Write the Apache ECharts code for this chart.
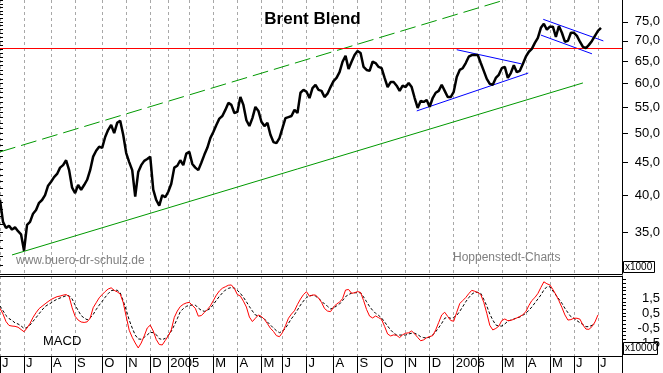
<!DOCTYPE html>
<html><head><meta charset="utf-8">
<script src="https://cdn.jsdelivr.net/npm/echarts@6/dist/echarts.min.js"></script>
<style>html,body{margin:0;padding:0;background:#fff}#c{width:663px;height:373px}</style>
</head><body><div id="c"></div>
<script>
// ---- data ----
const slotCount = 208; // trading-time slots across the x axis
const monthTickIdx = [0,8,17,25,34,42,50,56,63,71,79,87,94,102,111,119,127,135,143,151,159,167,175,183,191,199,207];
const monthLabels  = ['J','J','A','S','O','N','D','2005','','M','A','M','J','J','A','S','O','N','D','2006','','M','A','M','J','J',''];

const price = [
39.3,36.3,35.5,35.8,35.3,35.6,35.1,34.7,32.7,35.9,
36.3,37.4,37.9,38.9,39.3,40.0,41.4,42.0,42.7,43.2,
44.2,44.6,45.4,43.8,41.1,40.3,41.5,40.8,41.5,42.3,
43.8,46.0,47.0,47.7,47.5,49.4,50.7,51.6,50.1,52.0,
52.4,49.8,46.6,45.1,43.8,39.8,43.5,44.6,45.3,45.6,
46.0,40.8,39.3,38.5,40.0,39.7,40.5,41.7,44.2,44.5,
45.4,44.6,46.5,46.8,44.8,44.2,43.8,45.0,46.3,47.5,
49.2,50.3,51.6,52.8,53.3,54.5,55.9,55.5,53.9,54.1,
57.1,55.5,52.5,51.4,52.9,55.1,54.3,52.2,51.4,52.0,
49.8,48.5,48.3,49.2,51.0,52.9,53.1,53.3,54.5,53.9,
58.0,58.6,58.2,56.9,59.0,59.7,58.6,58.4,57.1,57.8,
59.2,60.5,61.2,62.5,64.9,66.3,63.2,64.9,66.5,67.5,
67.0,63.7,63.0,62.8,64.9,64.6,63.7,63.4,61.2,59.2,
60.3,60.3,59.5,58.4,59.5,59.2,60.1,59.2,56.9,54.9,
56.3,56.1,56.5,55.1,56.9,58.0,58.4,59.7,58.4,57.1,
57.1,58.2,61.4,63.0,63.4,64.6,66.1,66.5,66.5,66.5,
64.6,62.8,61.0,59.9,59.7,61.2,61.9,63.4,63.7,61.2,
62.3,64.1,62.5,62.8,64.4,66.1,67.3,68.0,69.5,70.8,
73.4,74.5,72.9,73.7,73.7,71.0,73.9,72.1,69.8,70.0,
72.1,72.1,71.3,69.8,68.5,68.2,69.0,70.0,71.3,72.6,
73.4];

const macd = [
0.81,0.43,-0.07,-0.33,-0.37,-0.39,-0.45,-0.6,-0.75,-0.5,
-0.19,0.21,0.52,0.79,0.95,1.11,1.26,1.4,1.5,1.59,
1.63,1.69,1.73,1.6,0.85,0.28,0.03,-0.1,-0.13,-0.09,
0.15,0.85,1.18,1.51,1.73,1.93,2.1,2.18,2.01,1.91,
1.77,1.2,0.27,-0.65,-1.12,-1.5,-1.83,-1.5,-1.03,-0.5,
-0.31,-0.7,-1.27,-1.6,-1.63,-1.33,-1.03,-0.63,0.2,0.63,
0.93,1.08,1.17,1.21,1.01,0.81,0.29,0.33,0.53,0.73,
0.97,1.33,1.69,1.97,2.15,2.25,2.35,2.37,2.13,1.73,
1.63,1.29,0.9,0.23,-0.07,0.15,0.37,0.27,0.07,-0.21,
-0.52,-0.73,-1.01,-1.08,-0.81,-0.35,0.15,0.43,0.65,1.07,
1.43,1.73,1.92,1.62,1.7,1.7,1.5,1.21,0.8,0.63,
0.59,0.89,1.1,1.22,1.46,2.03,2.07,1.81,1.85,1.93,
1.87,1.33,0.73,0.29,0.17,0.3,0.19,0.07,-0.4,-0.9,
-1.03,-0.96,-0.99,-1.14,-0.95,-0.85,-0.82,-0.7,-0.89,-1.13,
-1.35,-1.29,-1.15,-1.07,-1.01,-0.63,-0.13,0.37,0.55,0.27,
0,-0.05,0.55,1.13,1.33,1.53,1.79,2.01,1.95,1.86,
1.73,1.21,0.48,-0.32,-0.63,-0.53,-0.38,0,0.1,-0.01,
0.01,0.08,0.17,0.27,0.39,0.59,1.0,1.33,1.53,1.8,
2.2,2.58,2.45,2.37,2.07,1.72,1.32,0.87,0.37,0.03,
0.06,0.15,0.15,0.09,-0.3,-0.57,-0.59,-0.41,-0.1,0.37];

const signal = [
0.97,0.65,0.33,0.13,0.01,-0.16,-0.23,-0.36,-0.53,-0.47,
-0.3,-0.05,0.19,0.45,0.7,0.93,1.06,1.17,1.31,1.42,
1.5,1.58,1.65,1.65,1.44,1.03,0.67,0.33,0.17,0.05,
0.17,0.4,0.73,1.02,1.28,1.55,1.79,1.99,2.03,2.02,
1.85,1.32,0.7,0.03,-0.5,-0.97,-1.23,-1.25,-1.12,-0.96,
-0.79,-0.81,-0.94,-1.21,-1.27,-1.19,-0.99,-0.72,-0.32,0.12,
0.59,0.79,0.94,1.01,1.03,1.03,0.83,0.68,0.61,0.68,
0.81,1.07,1.34,1.61,1.83,2.03,2.14,2.2,2.16,2.01,
1.81,1.55,1.25,0.93,0.63,0.37,0.3,0.21,0.1,-0.1,
-0.3,-0.5,-0.68,-0.81,-0.72,-0.52,-0.19,0.12,0.39,0.7,
1.03,1.3,1.53,1.65,1.67,1.63,1.47,1.3,1.1,0.95,
0.77,0.83,0.97,1.1,1.33,1.59,1.73,1.82,1.85,1.85,
1.85,1.57,1.25,0.93,0.68,0.48,0.34,0.17,-0.1,-0.37,
-0.63,-0.83,-0.97,-0.97,-0.97,-0.97,-0.9,-0.85,-0.85,-0.94,
-1.08,-1.14,-1.17,-1.1,-0.97,-0.75,-0.48,-0.19,0.15,0.21,
0.15,0.21,0.34,0.61,0.92,1.25,1.52,1.75,1.88,1.88,
1.81,1.41,0.97,0.43,0.03,-0.3,-0.37,-0.37,-0.23,-0.05,
0.03,0.1,0.17,0.23,0.35,0.48,0.68,0.9,1.17,1.43,
1.7,2.03,2.25,2.25,1.97,1.7,1.43,1.15,0.81,0.52,
0.25,0.15,-0.01,-0.15,-0.27,-0.41,-0.41,-0.32,-0.23];

const resistanceLevel = 68.2;
const channelLower   = [[4, 32.2], [194, 60.1]];
const channelUpper   = [[0, 46.8], [172, 82.3]];
const supportBlue    = [[138.7, 54.3], [175.8, 62.3]];
const triangleTop    = [[152, 67.8], [173.6, 64.4]];
const flagTop        = [[180.8, 75.7], [200.8, 70.0]];
const flagBottom     = [[180, 71.5], [197, 66.8]];

const priceLabelTicks = [35,40,45,50,55,60,65,70,75];
const priceMinorTicks = [31,32,33,34,35,36,37,38,39,40,41,42,43,44,45,46,47,48,49,50,51,52,53,54,55,56,57,58,59,60,61,62,63,64,65,66,67,68,69,70,71,72,73,74,75,76,77,78,79,80,81];
const macdLabelTicks = [-1.5,-0.5,0.5,1.5];
const macdMinorTicks = [-2.25,-2,-1.75,-1.5,-1.25,-1,-0.75,-0.5,-0.25,0,0.25,0.5,0.75,1,1.25,1.5,1.75,2,2.25,2.5,2.75];

// ---- chart ----
const FONT = 'Liberation Sans, Arial, sans-serif';
const slots = Array.from({length: slotCount}, (_, i) => String(i));
const tickSet = new Set(monthTickIdx);
const labelOf = {};
monthTickIdx.forEach((t, k) => { labelOf[t] = monthLabels[k]; });
const isTick = (idx) => tickSet.has(idx);
const fmtComma = v => Number(v).toFixed(1).replace('.', ',');
const gridLine = {show: true, interval: isTick, lineStyle: {color: '#a8a8a8', type: [3, 3], width: 1}};

function trend(data, color, type) {
  return {type: 'line', xAxisIndex: 2, yAxisIndex: 0, data: data, showSymbol: false, symbol: 'none',
    clip: true, silent: true, z: 3,
    lineStyle: {color: color, width: 1, type: type || 'solid'}};
}

const chart = echarts.init(document.getElementById('c'), null, {renderer: 'canvas'});
chart.setOption({
  animation: false,
  backgroundColor: '#fff',
  textStyle: {fontFamily: FONT},
  grid: [
    {left: 0, right: 41, top: 0, height: 274, containLabel: false, outerBoundsMode: 'none'},
    {left: 0, right: 41, top: 276, height: 80, containLabel: false, outerBoundsMode: 'none'}
  ],
  xAxis: [
    {type: 'category', gridIndex: 0, data: slots, boundaryGap: false, position: 'bottom',
      axisLine: {show: true, onZero: false, lineStyle: {color: '#000', width: 1}}, axisTick: {show: false}, axisLabel: {show: false},
      splitLine: gridLine},
    {type: 'category', gridIndex: 1, data: slots, boundaryGap: false, position: 'bottom',
      axisLine: {show: true, onZero: false, lineStyle: {color: '#000', width: 1}},
      axisTick: {show: true, interval: isTick, length: 17, lineStyle: {color: '#000', width: 1}},
      axisLabel: {show: true, interval: isTick, formatter: (v, idx) => labelOf[idx] || '',
        align: 'left', margin: 1, padding: [0, 0, 0, 2], color: '#000', fontSize: 13, fontFamily: FONT},
      splitLine: gridLine},
    {type: 'value', gridIndex: 0, min: 0, max: slotCount - 1, show: false},
    {type: 'category', gridIndex: 1, data: slots, boundaryGap: false, position: 'top',
      axisLine: {show: true, onZero: false, lineStyle: {color: '#000', width: 1}}, axisTick: {show: false}, axisLabel: {show: false},
      splitLine: {show: false}}
  ],
  yAxis: [
    {type: 'log', gridIndex: 0, position: 'right', min: 30.05, max: 81.2,
      axisLine: {show: true, onZero: false, lineStyle: {color: '#000', width: 1}},
      axisTick: {show: true, inside: false, length: 6, customValues: priceLabelTicks, lineStyle: {color: '#000'}},
      axisLabel: {show: true, customValues: priceLabelTicks, formatter: fmtComma, align: 'right', margin: 38,
        color: '#000', fontSize: 13, fontFamily: FONT},
      splitLine: {show: false}},
    {type: 'log', gridIndex: 0, position: 'right', min: 30.05, max: 81.2,
      axisLine: {show: false},
      axisTick: {show: true, inside: false, length: 3, customValues: priceMinorTicks, lineStyle: {color: '#000'}},
      axisLabel: {show: false}, splitLine: {show: false}},
    {type: 'value', gridIndex: 1, position: 'right', min: -2.367, max: 2.967,
      axisLine: {show: true, onZero: false, lineStyle: {color: '#000', width: 1}},
      axisTick: {show: true, inside: false, length: 4, customValues: macdMinorTicks, lineStyle: {color: '#000'}},
      axisLabel: {show: true, customValues: macdLabelTicks, formatter: fmtComma, align: 'right', margin: 38,
        color: '#000', fontSize: 13, fontFamily: FONT},
      splitLine: {show: false}}
  ],
  series: [
    {name: 'Brent', type: 'line', xAxisIndex: 0, yAxisIndex: 0, data: price, showSymbol: false, symbol: 'none',
      z: 5, lineStyle: {color: '#000', width: 2.5},
      markLine: {silent: true, symbol: 'none', label: {show: false}, animation: false,
        lineStyle: {color: '#ff0000', type: 'solid', width: 1}, data: [{yAxis: resistanceLevel}]}},
    trend(channelLower, '#009900'),
    trend(channelUpper, '#009900', [16, 6]),
    trend(supportBlue, '#0000ff'),
    trend(triangleTop, '#0000ff'),
    trend(flagTop, '#0000ff'),
    trend(flagBottom, '#0000ff'),
    {name: 'MACD', type: 'line', xAxisIndex: 1, yAxisIndex: 2, data: macd, showSymbol: false, symbol: 'none',
      z: 4, lineStyle: {color: '#ff0000', width: 1}},
    {name: 'Signal', type: 'line', xAxisIndex: 1, yAxisIndex: 2, data: signal, showSymbol: false, symbol: 'none',
      z: 3, lineStyle: {color: '#000', width: 1, type: [3, 2]}}
  ],
  graphic: [
    {type: 'text', x: 312.5, y: 19, z: 10, style: {text: 'Brent Blend', font: 'bold 17px ' + FONT, fill: '#000',
      textAlign: 'center', textVerticalAlign: 'middle'}},
    {type: 'text', x: 16, y: 261, z: 10, style: {text: 'www.buero-dr-schulz.de', font: '12px ' + FONT, fill: '#808080',
      textAlign: 'left', textVerticalAlign: 'middle'}},
    {type: 'text', x: 453, y: 258, z: 10, style: {text: 'Hoppenstedt-Charts', font: '12px ' + FONT, fill: '#808080',
      textAlign: 'left', textVerticalAlign: 'middle'}},
    {type: 'text', x: 43, y: 341, z: 10, style: {text: 'MACD', font: '13px ' + FONT, fill: '#000',
      textAlign: 'left', textVerticalAlign: 'middle'}},
    {type: 'rect', z: 20, shape: {x: 623.5, y: 261.5, width: 31, height: 11}, style: {fill: '#fff', stroke: '#000', lineWidth: 1}},
    {type: 'text', z: 21, x: 625, y: 267, style: {text: 'x1000', font: '10px ' + FONT, fill: '#000', textAlign: 'left', textVerticalAlign: 'middle'}},
    {type: 'rect', z: 20, shape: {x: 623.5, y: 342.5, width: 34, height: 12}, style: {fill: '#fff', stroke: '#000', lineWidth: 1}},
    {type: 'text', z: 21, x: 625, y: 348.5, style: {text: 'x10000', font: '10px ' + FONT, fill: '#000', textAlign: 'left', textVerticalAlign: 'middle'}}
  ]
});
</script>
</body></html>
